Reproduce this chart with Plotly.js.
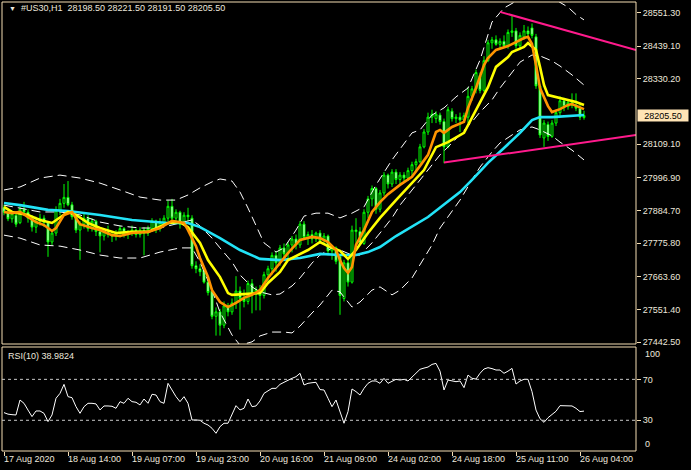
<!DOCTYPE html>
<html><head><meta charset="utf-8">
<script src="https://cdn.plot.ly/plotly-3.0.1.min.js"></script>
<style>html,body{margin:0;padding:0;background:#000;}#chart{width:691px;height:470px;}</style>
</head><body><div id="chart"></div>
<script>
// ---- candles (H1 bars, index 0..145) ----
const openP = [27895,27880,27858,27870,27845,27890,27880,27860,27830,27850,
27860,27845,27780,27810,27885,27910,27930,27905,27865,27820,
27840,27860,27825,27850,27815,27800,27815,27805,27800,27810,
27825,27805,27815,27820,27805,27820,27810,27825,27850,27825,
27845,27860,27900,27860,27880,27840,27870,27860,27700,27690,
27685,27645,27615,27530,27545,27500,27565,27545,27575,27615,
27590,27580,27640,27605,27620,27600,27670,27690,27735,27710,
27760,27740,27770,27790,27770,27840,27795,27805,27790,27810,
27785,27800,27750,27760,27730,27590,27710,27645,27820,27815,
27775,27880,27925,27960,27890,27945,28005,27975,28015,27990,
28005,27995,28020,28040,28050,28100,28150,28200,28195,28207,
28185,28100,28220,28195,28200,28190,28200,28270,28295,28340,
28290,28390,28450,28460,28445,28455,28440,28485,28490,28440,
28470,28490,28500,28470,28305,28130,28175,28135,28180,28215,
28255,28235,28250,28240,28230,28198.5];
const highP = [27905,27890,27885,27880,27900,27915,27890,27870,27865,27875,
27870,27850,27820,27900,27925,27975,27985,27915,27875,27850,
27880,27870,27860,27855,27830,27825,27835,27815,27820,27835,
27830,27820,27835,27825,27830,27830,27835,27860,27855,27860,
27870,27920,27925,27890,27885,27880,27895,27870,27715,27705,
27695,27660,27625,27560,27555,27580,27575,27590,27665,27630,
27620,27650,27655,27630,27635,27680,27700,27745,27750,27770,
27775,27780,27800,27805,27850,27850,27815,27820,27815,27820,
27810,27805,27770,27765,27740,27720,27720,27835,27860,27830,
27890,27935,27970,27965,27955,28015,28010,28025,28025,28015,
28015,28030,28050,28060,28110,28160,28215,28225,28220,28215,
28195,28235,28230,28210,28215,28215,28300,28305,28360,28350,
28405,28460,28470,28475,28465,28475,28495,28540,28500,28485,
28510,28505,28515,28480,28310,28190,28185,28190,28225,28270,
28265,28260,28280,28280,28245,28221.5];
const lowP = [27870,27850,27845,27830,27840,27870,27845,27815,27810,27835,
27830,27730,27770,27800,27870,27895,27900,27855,27810,27720,
27825,27815,27815,27800,27745,27785,27795,27780,27785,27795,
27795,27790,27800,27795,27795,27735,27800,27815,27810,27815,
27835,27850,27850,27845,27825,27835,27850,27690,27675,27665,
27640,27600,27520,27465,27465,27490,27530,27535,27555,27485,
27560,27570,27540,27550,27550,27590,27640,27670,27680,27700,
27715,27720,27745,27755,27760,27790,27770,27775,27780,27775,
27770,27735,27720,27705,27535,27580,27630,27640,27765,27770,
27770,27860,27900,27875,27880,27935,27960,27965,27975,27975,
27985,27985,28000,28020,28045,28095,28140,28180,28180,28175,
28045,28095,28185,28180,28150,28180,28180,28255,28280,28280,
28285,28385,28430,28440,28430,28435,28430,28470,28430,28430,
28460,28465,28465,28295,28130,28100,28120,28130,28170,28205,
28220,28225,28230,28220,28190,28191.5];
const closeP = [27880,27858,27875,27840,27890,27880,27860,27830,27850,27860,
27845,27780,27810,27885,27910,27930,27905,27865,27820,27840,
27860,27825,27850,27815,27800,27815,27805,27800,27810,27825,
27805,27815,27820,27805,27820,27810,27825,27850,27825,27845,
27860,27900,27860,27880,27840,27870,27865,27700,27690,27680,
27645,27610,27530,27545,27500,27565,27545,27575,27615,27590,
27580,27640,27605,27620,27600,27670,27690,27735,27710,27760,
27740,27770,27790,27770,27840,27795,27805,27790,27810,27785,
27800,27750,27760,27715,27600,27710,27645,27820,27815,27775,
27880,27925,27960,27890,27945,28005,27975,28015,27990,28005,
27995,28020,28040,28050,28100,28150,28200,28210,28210,28185,
28100,28225,28195,28200,28190,28205,28270,28295,28350,28290,
28390,28450,28460,28445,28455,28440,28485,28490,28440,28475,
28490,28480,28475,28305,28140,28180,28135,28180,28215,28255,
28235,28250,28240,28230,28200,28205.5];

// ---- moving averages (bar index -> price) ----
const maFastX = [0,2,4,6,8,10,12,13,15,17,19,22,24,27,29,32,36,39,42,45,46,48,49,51,52,54,56,58,60,62,64,66,69,71,74,77,79,81,83,84,85,86,87,88,90,92,94,96,99,102,104,106,108,109,110,112,115,116,118,120,121,123,126,128,130,131,132,133,134,136,137,139,141,142,144,145];
const maFastY = [27881,27877,27881,27864,27847,27837,27817,27827,27871,27881,27840,27827,27820,27803,27800,27810,27814,27827,27851,27844,27820,27766,27726,27662,27618,27578,27561,27575,27592,27602,27618,27659,27709,27743,27787,27797,27793,27780,27753,27719,27692,27676,27696,27770,27820,27881,27914,27941,27972,27999,28036,28073,28150,28157,28147,28167,28184,28231,28298,28375,28399,28426,28439,28453,28466,28470,28446,28375,28298,28237,28217,28227,28241,28244,28234,28227];
const maMidX = [0,2,6,9,12,13,16,18,21,24,28,32,36,41,44,46,49,51,54,56,57,64,66,69,71,76,79,81,84,86,88,91,94,98,102,105,108,111,115,118,121,123,126,127,130,131,133,134,135,136,138,141,143,145];
const maMidY = [27898,27881,27871,27854,27844,27854,27881,27871,27844,27827,27810,27814,27814,27844,27847,27830,27777,27719,27662,27608,27602,27608,27642,27679,27719,27753,27780,27766,27750,27723,27753,27810,27861,27921,27978,28022,28099,28116,28147,28224,28301,28369,28402,28419,28436,28449,28426,28369,28308,28274,28268,28258,28251,28241];
const maSlowX = [0,4,11,16,24,32,41,46,49,54,59,64,69,74,79,84,88,91,94,98,106,114,117,121,125,129,132,134,137,141,145];
const maSlowY = [27911,27904,27888,27884,27871,27854,27844,27844,27830,27793,27753,27723,27719,27726,27740,27736,27736,27746,27763,27800,27864,27948,27989,28046,28096,28147,28190,28200,28200,28204,28207];

// ---- Bollinger bands ----
const bbUpX = [0,4,9,14,19,24,29,34,39,43,46,49,52,54,57,59,61,63,65,68,70,73,75,78,81,84,87,90,93,97,100,102,104,107,110,113,116,119,122,125,128,131,134,138,141,143,145];
const bbUpY = [27955,27965,27995,28005,27995,27978,27955,27931,27921,27921,27938,27962,27982,27992,27985,27948,27894,27837,27777,27746,27760,27820,27867,27877,27877,27861,27877,27898,27972,28056,28113,28147,28157,28207,28231,28268,28298,28392,28520,28567,28590,28610,28610,28594,28570,28545,28527];
const bbMidX = [0,4,9,14,19,24,29,34,39,44,47,49,52,54,57,59,62,64,67,69,72,74,77,79,82,84,87,89,92,94,97,99,102,104,107,109,112,114,117,119,122,124,127,129,132,134,137,139,142,145];
const bbMidY = [27904,27894,27881,27881,27871,27847,27834,27827,27827,27844,27854,27834,27793,27760,27713,27669,27629,27612,27602,27605,27632,27659,27709,27736,27760,27753,27736,27736,27777,27810,27861,27904,27955,27989,28039,28073,28113,28140,28184,28217,28258,28298,28352,28385,28409,28406,28389,28372,28342,28308];
const bbLowX = [0,4,9,14,19,24,29,34,39,44,47,49,52,54,57,59,62,64,67,70,72,74,77,79,82,84,87,89,92,94,97,99,102,104,107,109,112,114,117,119,122,124,127,129,132,134,137,139,142,145];
const bbLowY = [27803,27793,27770,27766,27753,27736,27726,27726,27746,27760,27760,27713,27618,27544,27467,27433,27444,27464,27477,27477,27474,27497,27541,27568,27618,27612,27561,27578,27618,27629,27602,27618,27659,27703,27770,27827,27881,27921,27989,28032,28083,28113,28140,28157,28167,28157,28137,28116,28089,28056];

// ---- trend lines (drawn objects) ----
const trendUpX = [124, 158], trendUpY = [28554, 28426];
const trendLowX = [110, 158], trendLowY = [28047, 28140];

// ---- RSI(10) ----
const rsiVals = [37.5,36,35.5,35.2,49.8,46.6,40,33.6,39.1,39.1,
36.8,28.7,35.2,51.5,56.3,65.1,53.1,52.1,43.3,36.8,
43.3,46.6,46.6,46,40.1,44,44,43.7,41.7,48.2,
46.6,51.5,48.2,47.6,45,50.8,46.6,55.4,54.7,48.2,
46.6,66.1,59.6,53.1,48.2,53.1,46.6,30.3,30.3,30,
27.1,25.4,22.2,17.3,23.8,27.1,27.1,35.2,44.3,40.1,
41.7,50.8,43.3,44,48.9,56.3,59,61.2,61.2,65.1,
67.1,69.3,71,72.6,75.9,64.5,66.1,66.7,67.1,60,
59.6,51.5,43.3,49.8,38.5,27.1,38.5,60.6,58,54.7,
61.2,66.1,68.4,68.4,66.1,71,66.1,67.7,70,69.3,
70,68.4,72,75.9,79.8,81,82,84.6,85.6,78,
59.6,69.3,68.4,67.7,68.4,61.9,74.2,71,70.3,75.9,
80.1,81.4,80.5,79.1,79.1,75.9,78,80.7,65.4,68.4,
70,70,58,40,31.5,28,32.5,35.5,38.8,44.3,
44.3,44.3,44,41.7,38.5,38.98];
const rsiLevels = [30, 70];

// ---- axis labels ----
const priceTicks = [28551.3,28439.1,28330.2,28109.1,27996.9,27884.7,27775.8,27663.6,27551.4,27442.5];
const timeTickBars = [0,16,32,48,64,80,96,112,128,144];
const timeTickLabels = ['17 Aug 2020','18 Aug 14:00','19 Aug 07:00','19 Aug 23:00','20 Aug 16:00','21 Aug 09:00','24 Aug 02:00','24 Aug 18:00','25 Aug 11:00','26 Aug 04:00'];
const symbolTitle = '#US30,H1  28198.50 28221.50 28191.50 28205.50';
const rsiTitle = 'RSI(10) 38.9824';
const lastPrice = 28205.5;

const barIdx = openP.map((_, i) => i);
const FRAME = '#f5deb3';
const TXT = '#ece7dc';
const FONT = 'Liberation Sans, Arial, sans-serif';
const BBDASH = '9px,5px';

const traces = [
  {type:'candlestick', x: barIdx, open: openP, high: highP, low: lowP, close: closeP,
   xaxis:'x', yaxis:'y', hoverinfo:'skip', whiskerwidth:0,
   increasing:{line:{color:'#00ff00', width:1}, fillcolor:'#000000'},
   decreasing:{line:{color:'#00ff00', width:1}, fillcolor:'#ffffff'}},
  {type:'scatter', mode:'lines', x: bbUpX, y: bbUpY, yaxis:'y', line:{color:'#ffffff', width:1, dash:BBDASH}},
  {type:'scatter', mode:'lines', x: bbMidX, y: bbMidY, yaxis:'y', line:{color:'#ffffff', width:1, dash:BBDASH}},
  {type:'scatter', mode:'lines', x: bbLowX, y: bbLowY, yaxis:'y', line:{color:'#ffffff', width:1, dash:BBDASH}},
  {type:'scatter', mode:'lines', x: maSlowX, y: maSlowY, yaxis:'y', line:{color:'#22e3f7', width:2.6}},
  {type:'scatter', mode:'lines', x: maMidX, y: maMidY, yaxis:'y', line:{color:'#ffff00', width:2.6}},
  {type:'scatter', mode:'lines', x: maFastX, y: maFastY, yaxis:'y', line:{color:'#ff9400', width:2.6}},
  {type:'scatter', mode:'lines', x: trendUpX, y: trendUpY, yaxis:'y', line:{color:'#ff1a8c', width:2}},
  {type:'scatter', mode:'lines', x: trendLowX, y: trendLowY, yaxis:'y', line:{color:'#ff1a8c', width:2}},
  {type:'scatter', mode:'lines', x: barIdx, y: rsiVals, yaxis:'y2', line:{color:'#ffffff', width:1}}
];

const H = 449; // plot area height in px (2..451)
const py = p => (451 - p) / H;      // pixel row -> paper y
const px = p => (p - 2) / 634;      // pixel col -> paper x

const annotations = [
  {xref:'paper', yref:'paper', x: px(7), y: py(9), xanchor:'left', yanchor:'middle', text:'▼', showarrow:false, font:{family:FONT, size:7, color:TXT}},
  {xref:'paper', yref:'paper', x: px(19), y: py(8.5), xanchor:'left', yanchor:'middle', text: symbolTitle, showarrow:false, font:{family:FONT, size:9, color:TXT}},
  {xref:'paper', yref:'paper', x: px(6), y: py(356), xanchor:'left', yanchor:'middle', text: rsiTitle, showarrow:false, font:{family:FONT, size:9, color:TXT}},
  {xref:'paper', yref:'paper', x: 1, xshift: 7, y: py(354), xanchor:'left', yanchor:'middle', text:'100', showarrow:false, font:{family:FONT, size:9, color:TXT}},
  {xref:'paper', yref:'paper', x: 1, xshift: 7, y: py(444), xanchor:'left', yanchor:'middle', text:'0', showarrow:false, font:{family:FONT, size:9, color:TXT}},
  {xref:'paper', yref:'y', x: 1, xshift: 1, y: lastPrice, xanchor:'left', yanchor:'middle', text: lastPrice.toFixed(2), showarrow:false,
   bgcolor:'#ffe4b5', width: 50, height: 11, borderpad: 0, font:{family:FONT, size:9, color:'#000000'}}
];
timeTickBars.forEach((b, i) => annotations.push({
  xref:'x', yref:'paper', x: b, xshift:-2, y: py(459), xanchor:'left', yanchor:'middle',
  text: timeTickLabels[i], showarrow:false, font:{family:FONT, size:9, color:TXT}
}));

const shapes = [
  {type:'rect', xref:'paper', yref:'paper', x0:0, x1:1, y0: py(344), y1:1, line:{color:FRAME, width:1}},
  {type:'rect', xref:'paper', yref:'paper', x0:0, x1:1, y0:0, y1: py(347), line:{color:FRAME, width:1}}
];
rsiLevels.forEach(v => shapes.push({type:'line', xref:'paper', yref:'y2', x0:0, x1:1, y0:v, y1:v, line:{color:'#c8c8c8', width:1, dash:'3px,3px'}}));

const layout = {
  width: 691, height: 470,
  paper_bgcolor:'#000000', plot_bgcolor:'#000000',
  margin:{l:2, r:55, t:2, b:19},
  showlegend:false, hovermode:false, dragmode:false,
  xaxis:{range:[-0.5,158], anchor:'y2', showgrid:false, zeroline:false, showline:false,
         showticklabels:false, ticks:'outside', ticklen:4, tickcolor:FRAME, tickwidth:1,
         tickmode:'array', tickvals: timeTickBars, rangeslider:{visible:false}, fixedrange:true},
  yaxis:{domain:[py(344), 1], range:[27436.8, 28587.3], side:'right', anchor:'x',
         showgrid:false, zeroline:false, showline:false, tickmode:'array',
         tickvals: priceTicks, ticktext: priceTicks.map(v => v.toFixed(2)),
         ticks:'outside', ticklen:4, tickcolor:FRAME, tickwidth:1,
         tickfont:{family:FONT, size:9, color:TXT}, fixedrange:true},
  yaxis2:{domain:[0, py(347)], range:[0, 101.6], side:'right', anchor:'x',
          showgrid:false, zeroline:false, showline:false, tickmode:'array',
          tickvals: rsiLevels, ticktext: rsiLevels.map(String),
          ticks:'outside', ticklen:4, tickcolor:FRAME, tickwidth:1,
          tickfont:{family:FONT, size:9, color:TXT}, fixedrange:true},
  shapes: shapes,
  annotations: annotations
};

Plotly.newPlot('chart', traces, layout, {staticPlot:true, displayModeBar:false});
</script>
</body></html>
